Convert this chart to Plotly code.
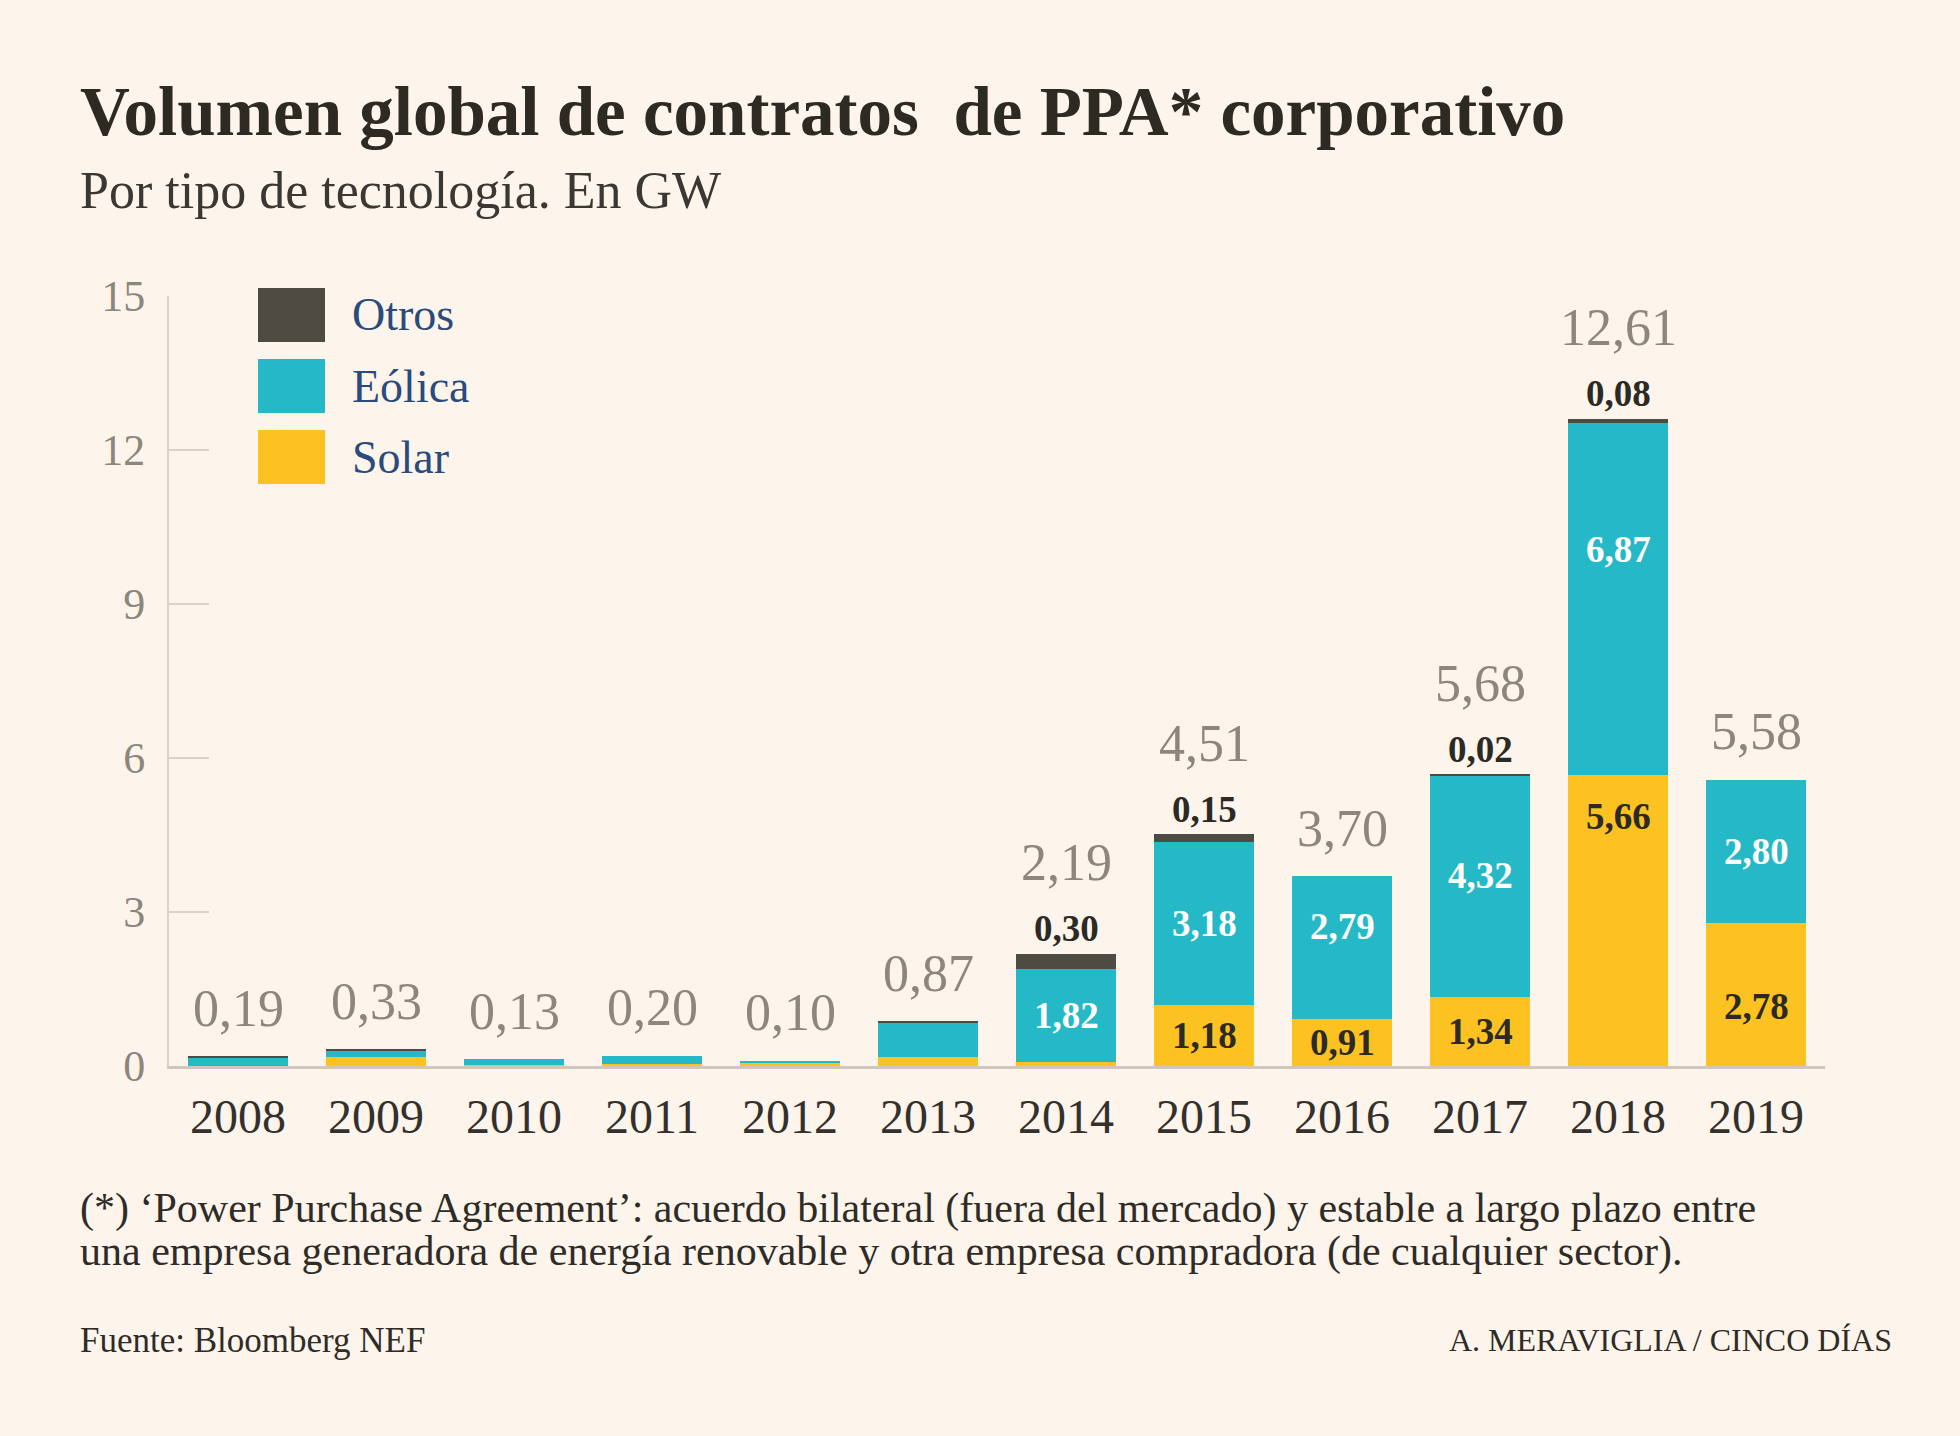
import plotly.graph_objects as go

years = ["2008", "2009", "2010", "2011", "2012", "2013", "2014", "2015", "2016", "2017", "2018", "2019"]
solar = [0.00, 0.17, 0.02, 0.03, 0.07, 0.18, 0.07, 1.18, 0.91, 1.34, 5.66, 2.78]
eolica = [0.17, 0.13, 0.11, 0.17, 0.03, 0.67, 1.82, 3.18, 2.79, 4.32, 6.87, 2.80]
otros = [0.02, 0.03, 0.00, 0.00, 0.00, 0.02, 0.30, 0.15, 0.00, 0.02, 0.08, 0.00]
totals = [0.19, 0.33, 0.13, 0.20, 0.10, 0.87, 2.19, 4.51, 3.70, 5.68, 12.61, 5.58]
yticks = [0, 3, 6, 9, 12, 15]

labelled_solar = ["2015", "2016", "2017", "2018", "2019"]
labelled_eolica = ["2014", "2015", "2016", "2017", "2018", "2019"]
labelled_otros = ["2014", "2015", "2017", "2018"]
# relative vertical position of inside labels within their segment
solar_frac = {"2018": 0.86, "2019": 0.42}
eolica_frac = {"2016": 0.65, "2017": 0.55, "2018": 0.64}

C_OTROS = "#4e4c42"
C_EOLICA = "#25b8c7"
C_SOLAR = "#fcc222"
BG = "#fdf5ec"
SERIF = "Liberation Serif, DejaVu Serif, serif"

W, H = 1960, 1436
ML, MR, MT, MB = 169, 135, 296, 370
PW, PH = W - ML - MR, H - MT - MB


def px(x):
    return (x - ML) / PW


def py(y):
    return (H - MB - y) / PH


def fmt(v):
    return f"{v:.2f}".replace(".", ",")


fig = go.Figure()
fig.add_trace(go.Bar(x=years, y=solar, name="Solar", marker=dict(color=C_SOLAR, line=dict(width=0))))
fig.add_trace(go.Bar(x=years, y=eolica, name="Eólica", marker=dict(color=C_EOLICA, line=dict(width=0))))
fig.add_trace(go.Bar(x=years, y=otros, name="Otros", marker=dict(color=C_OTROS, line=dict(width=0))))

ann = []
for i, yr in enumerate(years):
    s, e, o, t = solar[i], eolica[i], otros[i], totals[i]
    top = s + e + o
    if yr in labelled_solar:
        f = solar_frac.get(yr, 0.5)
        ann.append(dict(x=i, y=s * f, text=fmt(s), showarrow=False, yanchor="middle",
                        font=dict(family=SERIF, size=37, color="#2b2a24", weight="bold")))
    if yr in labelled_eolica:
        f = eolica_frac.get(yr, 0.5)
        ann.append(dict(x=i, y=s + e * f, text=fmt(e), showarrow=False, yanchor="middle",
                        font=dict(family=SERIF, size=37, color="#ffffff", weight="bold")))
    if yr in labelled_otros:
        ann.append(dict(x=i, y=top, text=fmt(o), showarrow=False, yanchor="middle", yshift=25,
                        font=dict(family=SERIF, size=37, color="#2b2a24", weight="bold")))
        tshift = 91
    else:
        tshift = 48
    ann.append(dict(x=i, y=top, text=fmt(t), showarrow=False, yanchor="middle", yshift=tshift,
                    font=dict(family=SERIF, size=52, color="#8c867d")))

# titles and notes (paper coordinates)
def text(x, y, s, size, color, xanchor="left", weight="normal"):
    ann.append(dict(xref="paper", yref="paper", x=px(x), y=py(y), text=s, showarrow=False,
                    xanchor=xanchor, yanchor="middle",
                    font=dict(family=SERIF, size=size, color=color, weight=weight)))

text(78, 112, "Volumen global de contratos  de PPA* corporativo", 69, "#2d2a24", weight="bold")
text(78, 190, "Por tipo de tecnología. En GW", 52, "#3b3834")
text(78, 1208, "(*) ‘Power Purchase Agreement’: acuerdo bilateral (fuera del mercado) y estable a largo plazo entre", 42, "#2f2c28")
text(78, 1251, "una empresa generadora de energía renovable y otra empresa compradora (de cualquier sector).", 42, "#2f2c28")
text(78, 1340, "Fuente: Bloomberg NEF", 35, "#2f2c28")
text(1894, 1340, "A. MERAVIGLIA / CINCO DÍAS", 32, "#2f2c28", xanchor="right")

# legend
shapes = []
leg = [("Otros", C_OTROS, 315), ("Eólica", C_EOLICA, 386), ("Solar", C_SOLAR, 457)]
for name, col, cy in leg:
    shapes.append(dict(type="rect", xref="paper", yref="paper", x0=px(258), x1=px(325),
                       y0=py(cy - 27), y1=py(cy + 27), fillcolor=col, line=dict(width=0), layer="above"))
    text(350, cy, name, 46, "#2a4b7c")

fig.update_layout(
    width=W, height=H,
    margin=dict(l=ML, r=MR, t=MT, b=MB, pad=0),
    paper_bgcolor=BG, plot_bgcolor=BG,
    barmode="stack", bargap=0.275,
    showlegend=False,
    annotations=ann, shapes=shapes,
    xaxis=dict(type="category", range=[-0.5, 11.5], showline=True, linecolor="#cfc7bb", linewidth=3,
               ticks="", showgrid=False, zeroline=False, ticklabelstandoff=6,
               tickfont=dict(family=SERIF, size=48, color="#34312c")),
    yaxis=dict(range=[0, 15], tickvals=yticks, ticktext=[str(v) for v in yticks],
               showline=True, linecolor="#ddd3c4", linewidth=2,
               ticks="inside", ticklen=40, tickcolor="#ddd3c4", tickwidth=2,
               showgrid=False, zeroline=False, ticklabelstandoff=13,
               tickfont=dict(family=SERIF, size=44, color="#8c867d")),
)

fig.write_html("out.html")
